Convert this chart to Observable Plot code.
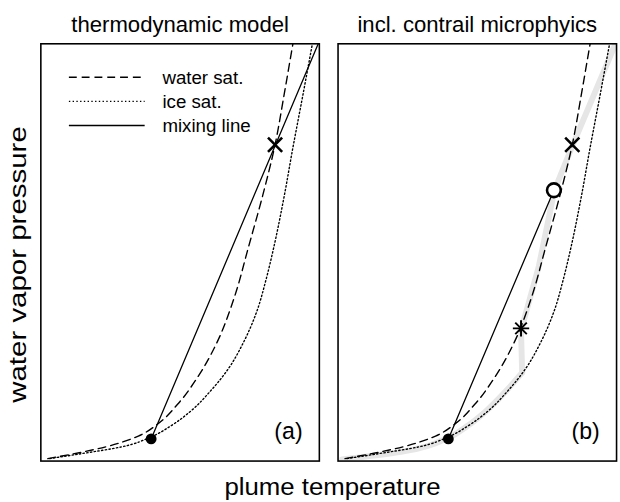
<!DOCTYPE html>
<html>
<head>
<meta charset="utf-8">
<script src="https://cdn.jsdelivr.net/npm/d3@7"></script>
<script src="https://cdn.jsdelivr.net/npm/@observablehq/plot@0.6"></script>
<style>
  html, body { margin: 0; padding: 0; background: #fff; overflow: hidden; }
  #figure { position: relative; width: 620px; height: 502px; overflow: hidden;
            font-family: "Liberation Sans", Arial, Helvetica, sans-serif; }
  #figure svg { position: absolute; left: 0; top: 0; }
  .axis-label { position: absolute; font-size: 23px; line-height: 1; white-space: nowrap; color: #000; }
</style>
</head>
<body>
<div id="figure"></div>
<script>
// Panels and their corner tags
const panels = ["thermodynamic model", "incl. contrail microphyics"];
const panelTags = ["(a)", "(b)"];

// Saturation vapour pressure over liquid water (plume temperature, pressure; arbitrary units)
const waterSatT = [2.5, 13.8, 23.3, 35.0, 42.0, 49.1, 56.2, 63.3, 69.6, 74.6, 79.6, 84.1, 87.4, 90.5];
const waterSatP = [0.6, 2.0, 3.4, 6.0, 8.9, 13.6, 20.0, 28.5, 39.5, 51.4, 63.5, 75.8, 88.0, 100];

// Saturation vapour pressure over ice
const iceSatT = [3.2, 14.8, 29.0, 39.6, 46.6, 53.7, 60.8, 67.5, 72.8, 77.4, 80.9, 83.7, 87.3, 90.5, 94.0, 97.5];
const iceSatP = [0.6, 1.8, 3.4, 5.8, 8.4, 11.9, 16.7, 22.3, 28.5, 35.6, 43.6, 51.4, 63.2, 75.1, 87.4, 100];

// Mixing line from ambient air towards the exhaust state
const mixingT = [39.6, 99.6];
const mixingP = [5.3, 100];

// Plume trajectory with contrail microphysics
const plumeT = [1.4, 22.6, 39.6, 46.4, 53.0, 60.2, 66.1, 65.7, 72.1, 77.7, 84.1, 99.6];
const plumeP = [0.4, 2.2, 5.6, 8.4, 11.9, 16.7, 21.2, 31.3, 46.7, 64.9, 75.5, 100];

// Marked states: ambient air, water saturation on the mixing line,
// end of the mixing segment, onset of droplet formation
const ambientT = 39.6, ambientP = 5.3;
const crossT = 84.1, crossP = 75.8;
const activationT = 77.5, activationP = 64.9;
const onsetT = 65.7, onsetP = 31.8;

const toRows = (ts, ps) => ts.map((t, i) => ({t, p: ps[i]}));
const water = toRows(waterSatT, waterSatP);
const ice = toRows(iceSatT, iceSatP);
const plume = toRows(plumeT, plumeP);
const plumeLow = plume.slice(0, 7);
const plumeHigh = plume.slice(6);
const mixingFull = toRows(mixingT, mixingP);
const mixingCut = toRows([ambientT, activationT], [ambientP, activationP]);

const font = '"Liberation Sans", Arial, Helvetica, sans-serif';
const marginLeft = 41, marginTop = 44;

const chart = Plot.plot({
  width: 630,
  height: 502,
  marginLeft,
  marginRight: 4,
  marginTop,
  marginBottom: 34,
  x: {domain: [0, 100], axis: null},
  y: {domain: [0, 100], axis: null},
  fx: {domain: panels, axis: null, paddingInner: 19 / 302, paddingOuter: 0, round: false},
  style: {fontFamily: font, background: "#fff", color: "#000", overflow: "visible"},
  marks: [
    // plume path (panel b only), drawn underneath
    Plot.line(plumeLow, {x: "t", y: "p", fx: () => panels[1], curve: "monotone-y", stroke: "#e6e6e6",
      strokeWidth: 6, strokeLinejoin: "round", strokeLinecap: "round", clip: true}),
    Plot.line(plumeHigh, {x: "t", y: "p", fx: () => panels[1], stroke: "#e6e6e6", strokeWidth: 6,
      strokeLinejoin: "round", strokeLinecap: "round", clip: true}),
    // saturation curves in both panels
    Plot.line(water, {x: "t", y: "p", curve: "monotone-y", stroke: "#000", strokeWidth: 1.4,
      strokeDasharray: "8,5", clip: true}),
    Plot.line(ice, {x: "t", y: "p", curve: "monotone-y", stroke: "#000", strokeWidth: 1.4,
      strokeDasharray: "1.4,2.4", clip: true}),
    // mixing lines
    Plot.line(mixingFull, {x: "t", y: "p", fx: () => panels[0], stroke: "#000", strokeWidth: 1.3}),
    Plot.line(mixingCut, {x: "t", y: "p", fx: () => panels[1], stroke: "#000", strokeWidth: 1.3}),
    // markers
    Plot.dot([0], {x: () => ambientT, y: () => ambientP, r: 5.5, fill: "#000"}),
    Plot.dot([0], {x: () => crossT, y: () => crossP, symbol: "times", r: 6.6, stroke: "#000", strokeWidth: 2.6}),
    Plot.dot([0], {x: () => activationT, y: () => activationP, fx: () => panels[1], r: 7,
      fill: "#fff", stroke: "#000", strokeWidth: 2.6}),
    Plot.dot([0], {x: () => onsetT, y: () => onsetP, fx: () => panels[1], symbol: "plus", r: 5.4,
      stroke: "#000", strokeWidth: 2}),
    Plot.dot([0], {x: () => onsetT, y: () => onsetP, fx: () => panels[1], symbol: "times", r: 5.4,
      stroke: "#000", strokeWidth: 2}),
    // panel titles and tags
    Plot.text(panels, {fx: d => d, text: d => d, frameAnchor: "top", dy: -12,
      fontSize: 22.5, lineAnchor: "bottom"}),
    Plot.text(panelTags, {fx: (d, i) => panels[i], text: d => d, frameAnchor: "bottom-right",
      dx: -17, dy: -30, fontSize: 23.5, textAnchor: "end", lineAnchor: "middle"}),
    Plot.frame({stroke: "#000", strokeWidth: 1.6})
  ]
});

const figure = document.getElementById("figure");
figure.appendChild(chart);

// Legend inside the first panel
const legendItems = [
  {label: "water sat.", dash: "8,5"},
  {label: "ice sat.", dash: "1.4,2.4"},
  {label: "mixing line", dash: null}
];
const legend = d3.select(chart).append("g")
  .attr("transform", `translate(${marginLeft},${marginTop})`)
  .attr("font-family", font)
  .attr("font-size", 19)
  .attr("text-anchor", "start");
legendItems.forEach((item, i) => {
  const y = 34.5 + i * 24.5;
  const line = legend.append("line")
    .attr("x1", 29).attr("x2", 106).attr("y1", y).attr("y2", y)
    .attr("stroke", "#000").attr("stroke-width", 1.4);
  if (item.dash) line.attr("stroke-dasharray", item.dash);
  legend.append("text").attr("x", 124).attr("y", y).attr("dy", "0.35em").text(item.label);
});

// Axis titles
const xLabel = document.createElement("div");
xLabel.className = "axis-label";
xLabel.textContent = "plume temperature";
figure.appendChild(xLabel);
const yLabel = document.createElement("div");
yLabel.className = "axis-label";
yLabel.textContent = "water vapor pressure";
figure.appendChild(yLabel);

function place(el, cx, cy, rotate, stretch) {
  const w = el.offsetWidth, h = el.offsetHeight;
  el.style.left = (cx - w / 2) + "px";
  el.style.top = (cy - h / 2) + "px";
  el.style.transform = `rotate(${rotate}deg) scaleX(${stretch})`;
}
place(xLabel, 332, 487, 0, 1.12);
place(yLabel, 18, 264, -90, 1.28);
</script>
</body>
</html>
